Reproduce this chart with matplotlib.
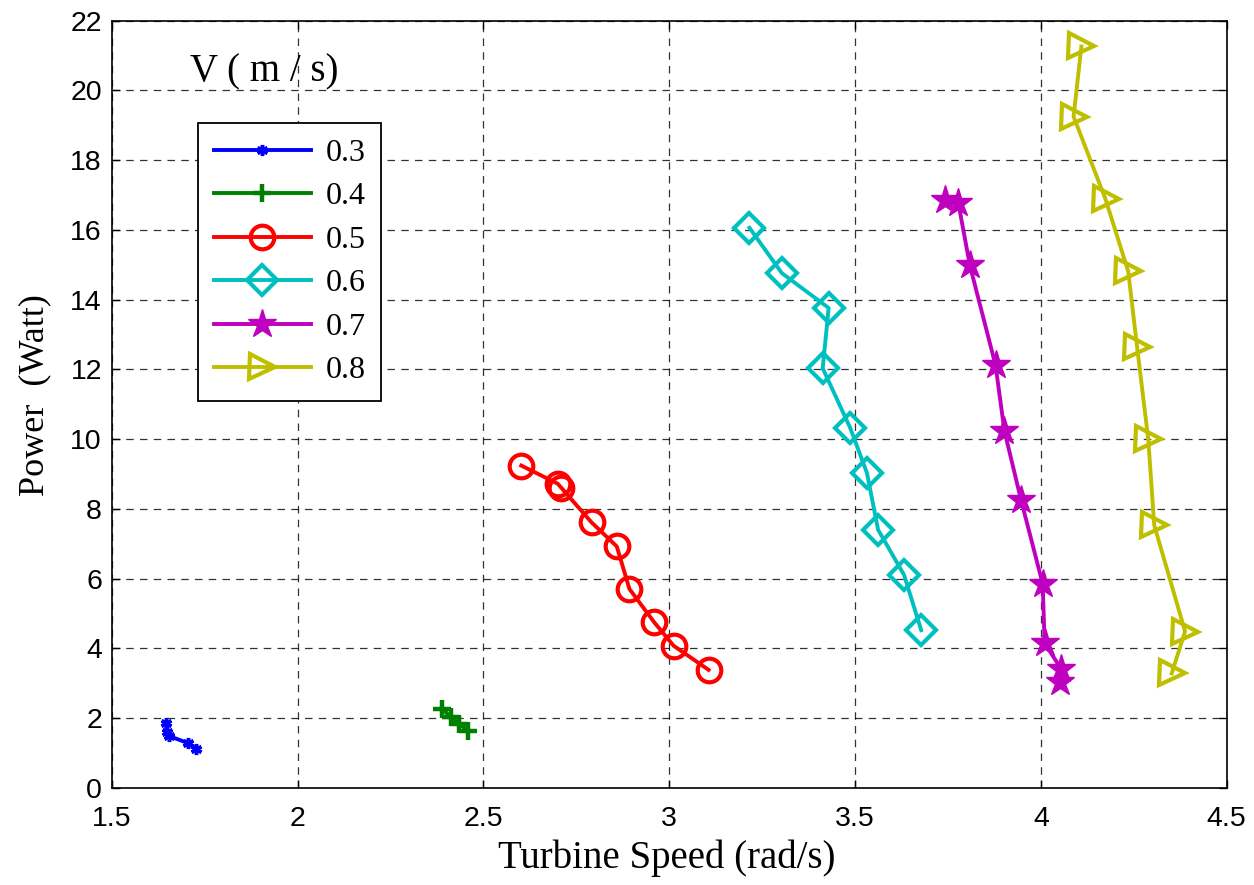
import matplotlib
matplotlib.use("Agg")
import matplotlib.pyplot as plt

# Data
speed_03 = [1.645, 1.650, 1.655, 1.705, 1.728]
power_03 = [1.85, 1.60, 1.48, 1.28, 1.12]

speed_04 = [2.390, 2.413, 2.435, 2.458]
power_04 = [2.26, 2.02, 1.83, 1.64]

speed_05 = [2.602, 2.700, 2.710, 2.791, 2.859, 2.893, 2.960, 3.012, 3.106]
power_05 = [9.24, 8.72, 8.60, 7.61, 6.92, 5.70, 4.74, 4.07, 3.38]

speed_06 = [3.216, 3.303, 3.429, 3.413, 3.487, 3.532, 3.562, 3.632, 3.678]
power_06 = [16.06, 14.76, 13.76, 12.03, 10.32, 9.03, 7.40, 6.10, 4.52]

speed_07 = [3.741, 3.778, 3.809, 3.878, 3.902, 3.947, 4.005, 4.010, 4.055, 4.052]
power_07 = [16.87, 16.77, 14.98, 12.12, 10.23, 8.24, 5.84, 4.15, 3.40, 3.03]

speed_08 = [4.109, 4.088, 4.174, 4.235, 4.259, 4.289, 4.305, 4.388, 4.352]
power_08 = [21.26, 19.25, 16.88, 14.81, 12.63, 9.99, 7.53, 4.48, 3.28]

labels = ["0.3", "0.4", "0.5", "0.6", "0.7", "0.8"]
x_ticks = [1.5, 2, 2.5, 3, 3.5, 4, 4.5]
y_ticks = [0, 2, 4, 6, 8, 10, 12, 14, 16, 18, 20, 22]

serif = ["Liberation Serif", "DejaVu Serif"]
sans = ["Liberation Sans", "DejaVu Sans"]

fig = plt.figure(figsize=(12.54, 8.85), dpi=100)
ax = fig.add_axes([111.7 / 1254, 1 - 787.7 / 885, 1115 / 1254, 767 / 885])

colors = [(0, 0, 1), (0, 0.5, 0), (1, 0, 0), (0, 0.75, 0.75), (0.75, 0, 0.75), (0.75, 0.75, 0)]
series = [(speed_03, power_03), (speed_04, power_04), (speed_05, power_05),
          (speed_06, power_06), (speed_07, power_07), (speed_08, power_08)]
styles = [
    dict(marker=(6, 2, 0), markersize=8, markeredgewidth=2.5, markerfacecolor="none"),
    dict(marker="+", markersize=13, markeredgewidth=3.2),
    dict(marker="o", markersize=17, markeredgewidth=3.0, markerfacecolor="none"),
    dict(marker="D", markersize=15, markeredgewidth=3.0, markerfacecolor="none"),
    dict(marker="*", markersize=21, markeredgewidth=1.0),
    dict(marker=">", markersize=18, markeredgewidth=3.0, markerfacecolor="none"),
]

for (xs, ys), c, st, lab in zip(series, colors, styles, labels):
    ax.plot(xs, ys, color=c, linewidth=2.8, markeredgecolor=c, label=lab,
            **({"markerfacecolor": c} | st))

ax.set_xlim(1.5, 4.5)
ax.set_ylim(0, 22)
ax.set_xticks(x_ticks)
ax.set_xticklabels([f"{t:g}" for t in x_ticks], family=sans, fontsize=20.5)
ax.set_yticks(y_ticks)
ax.set_yticklabels([f"{t:g}" for t in y_ticks], family=sans, fontsize=20.5)
ax.tick_params(direction="in", length=6, width=1, top=True, right=True)
ax.tick_params(axis="x", pad=13)
ax.tick_params(axis="y", pad=7)
ax.grid(True, color="black", linestyle=(0, (6, 5)), linewidth=0.9, alpha=0.8)
for s in ax.spines.values():
    s.set_linewidth(1.2)

ax.set_xlabel("Turbine Speed (rad/s)", family=serif, fontsize=28, va="center")
ax.xaxis.set_label_coords(0.498, -0.0917)
ax.set_ylabel("Power  (Watt)", family=serif, fontsize=26, va="center")
ax.yaxis.set_label_coords(-0.0688, 0.512)

ax.text(0.0702, 0.933, "V ( m / s)", transform=ax.transAxes, family=serif,
        fontsize=28, ha="left", va="center")

leg = ax.legend(loc="upper left", bbox_to_anchor=(0.0771, 0.867), borderaxespad=0,
                prop={"family": serif, "size": 23}, handlelength=3.05,
                handletextpad=0.45, labelspacing=0.44, borderpad=0.5,
                fancybox=False, framealpha=1, edgecolor="black")
leg.get_frame().set_linewidth(1.3)

fig.savefig("out.png", dpi=100)
